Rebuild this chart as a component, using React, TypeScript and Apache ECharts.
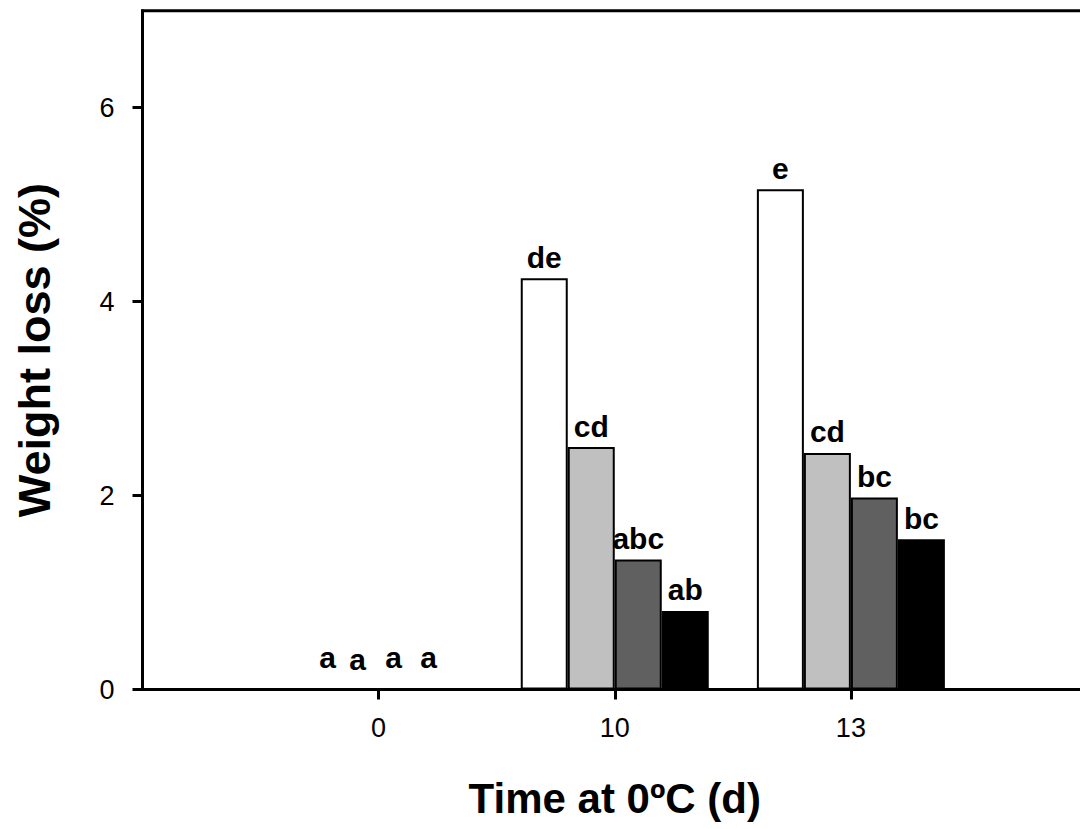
import React, { useEffect, useRef } from "react";
import * as echarts from "echarts";

const categories = ["", "0", "10", "13", ""];
const seriesColors = ["#ffffff", "#c0c0c0", "#606060", "#000000"];
const whiteValues = [0, 4.24, 5.16];
const lightGrayValues = [0, 2.5, 2.44];
const darkGrayValues = [0, 1.34, 1.98];
const blackValues = [0, 0.81, 1.55];
const whiteLetters = ["a", "de", "e"];
const lightGrayLetters = ["a", "cd", "cd"];
const darkGrayLetters = ["a", "abc", "bc"];
const blackLetters = ["a", "ab", "bc"];
const zeroLabelOffsets = [
  [19.5, -10],
  [2.5, -8],
  [-8.5, -10],
  [-20.5, -10],
];
const yTicks = [0, 2, 4, 6];

const FONT = '"Liberation Sans", Arial, sans-serif';

export default function App() {
  const ref = useRef<HTMLDivElement>(null);
  useEffect(() => {
    if (!ref.current) return;
    const chart = echarts.init(ref.current, null, { renderer: "svg" });
    const allValues = [whiteValues, lightGrayValues, darkGrayValues, blackValues];
    const allLetters = [whiteLetters, lightGrayLetters, darkGrayLetters, blackLetters];
    const series = allValues.map((vals, si) => ({
      type: "bar",
      barWidth: 47,
      barGap: "0%",
      itemStyle: { color: seriesColors[si], borderColor: "#000", borderWidth: 2 },
      label: {
        show: true,
        position: "top",
        distance: 6,
        fontFamily: FONT,
        fontWeight: "bold",
        fontSize: 30,
        color: "#000",
        formatter: (p: any) => allLetters[si][p.dataIndex - 1] ?? "",
      },
      data: [
        null,
        {
          value: vals[0],
          label: { offset: zeroLabelOffsets[si] },
        },
        vals[1],
        vals[2],
        null,
      ],
    }));
    chart.setOption({
      animation: false,
      backgroundColor: "#fff",
      grid: {
        left: 142.5,
        right: 1.5,
        top: 10.7,
        bottom: 139.5,
        show: true,
        borderColor: "#000",
        borderWidth: 3,
        backgroundColor: "transparent",
      },
      xAxis: {
        type: "category",
        data: categories,
        boundaryGap: false,
        name: "Time at 0ºC (d)",
        nameLocation: "middle",
        nameGap: 88,
        nameTextStyle: { fontFamily: FONT, fontWeight: "bold", fontSize: 42, color: "#000" },
        axisLine: { lineStyle: { color: "#000", width: 3 } },
        axisTick: {
          show: true,
          length: 10,
          lineStyle: { color: "#000", width: 3 },
          interval: (_i: number, v: string) => v !== "",
        },
        axisLabel: {
          fontFamily: FONT,
          fontSize: 27,
          color: "#000",
          margin: 25,
          interval: 0,
        },
        splitLine: { show: false },
      },
      yAxis: {
        type: "value",
        min: 0,
        max: 7,
        interval: 1,
        name: "Weight loss (%)",
        nameLocation: "middle",
        nameGap: 86,
        nameRotate: 90,
        nameTextStyle: { fontFamily: FONT, fontWeight: "bold", fontSize: 45, color: "#000" },
        axisLine: { show: true, lineStyle: { color: "#000", width: 3 } },
        axisTick: {
          show: true,
          length: 10,
          lineStyle: { color: "#000", width: 3 },
          customValues: yTicks,
        },
        axisLabel: {
          fontFamily: FONT,
          fontSize: 27,
          color: "#000",
          margin: 28,
          customValues: yTicks,
        },
        splitLine: { show: false },
      },
      series,
    });
    return () => chart.dispose();
  }, []);
  return (
    <div
      ref={ref}
      style={{ position: "fixed", left: 0, top: 0, width: 1090, height: 829, background: "#fff" }}
    />
  );
}
